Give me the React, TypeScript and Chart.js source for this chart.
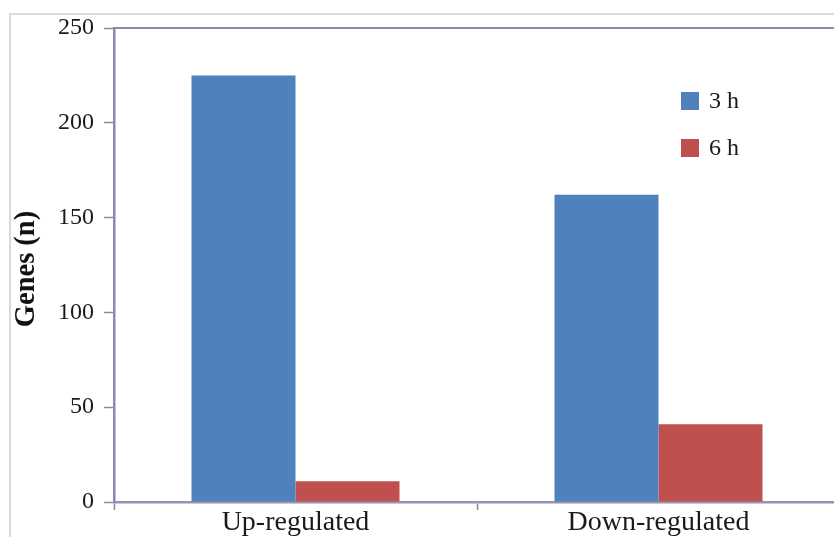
import React, { useEffect, useRef } from "react";
import { Chart, registerables } from "chart.js";

Chart.register(...registerables);

// Number of differentially expressed genes per regulation direction and time point
const categories = ["Up-regulated", "Down-regulated"];
const seriesLabels = ["3 h", "6 h"];
const genes3h = [225, 162];
const genes6h = [11, 41];
const yTicks = [0, 50, 100, 150, 200, 250];
const yTitle = "Genes (n)";

const BLUE = "#4f81bd";
const RED = "#c0504d";
const SERIF = "'Liberation Serif', 'Times New Roman', serif";

const W = 860;
const H = 560;

// Light frame around the figure, plus the top edge of the plot box
const framePlugin = {
  id: "frame",
  beforeDraw(chart: any) {
    const { ctx } = chart;
    ctx.save();
    ctx.fillStyle = "#ffffff";
    ctx.fillRect(0, 0, chart.width, chart.height);
    ctx.strokeStyle = "#dadada";
    ctx.lineWidth = 2;
    ctx.beginPath();
    ctx.moveTo(10, chart.height);
    ctx.lineTo(10, 14);
    ctx.lineTo(chart.width, 14);
    ctx.stroke();
    ctx.restore();
  },
  afterDraw(chart: any) {
    const { ctx, chartArea } = chart;
    ctx.save();
    ctx.strokeStyle = "#8a89b4";
    ctx.lineWidth = 2;
    ctx.beginPath();
    ctx.moveTo(chartArea.left, chartArea.top);
    ctx.lineTo(chartArea.right, chartArea.top);
    ctx.lineTo(chartArea.right, chartArea.bottom);
    ctx.stroke();
    ctx.restore();
  },
};

// Rotated y-axis title, set slightly below the plot's vertical middle
const yTitlePlugin = {
  id: "yTitle",
  afterDraw(chart: any) {
    const { ctx, chartArea } = chart;
    ctx.save();
    ctx.translate(27, (chartArea.top + chartArea.bottom) / 2 + 4);
    ctx.rotate(-Math.PI / 2);
    ctx.font = `bold 28.5px ${SERIF}`;
    ctx.fillStyle = "#111111";
    ctx.textAlign = "center";
    ctx.textBaseline = "middle";
    ctx.fillText(yTitle, 0, 0);
    ctx.restore();
  },
};

// Legend drawn inside the plot area, upper right
const insideLegend = {
  id: "insideLegend",
  afterDraw(chart: any) {
    const { ctx, chartArea } = chart;
    const x0 = chartArea.left + 567;
    const y0 = chartArea.top + 64;
    const box = 18;
    const rowGap = 47;
    ctx.save();
    ctx.font = `24px ${SERIF}`;
    ctx.textBaseline = "middle";
    ctx.textAlign = "left";
    chart.data.datasets.forEach((ds: any, i: number) => {
      const y = y0 + i * rowGap;
      ctx.fillStyle = ds.backgroundColor;
      ctx.fillRect(x0, y, box, box);
      ctx.fillStyle = "#1a1a1a";
      ctx.fillText(ds.label, x0 + 28, y + box / 2 + 1);
    });
    ctx.restore();
  },
};

export default function App() {
  const canvasRef = useRef<HTMLCanvasElement | null>(null);

  useEffect(() => {
    if (!canvasRef.current) return;
    const chart = new Chart(canvasRef.current, {
      type: "bar",
      data: {
        labels: categories,
        datasets: [
          {
            label: seriesLabels[0],
            data: genes3h,
            backgroundColor: BLUE,
            barPercentage: 1,
            categoryPercentage: 0.573,
          },
          {
            label: seriesLabels[1],
            data: genes6h,
            backgroundColor: RED,
            barPercentage: 1,
            categoryPercentage: 0.573,
          },
        ],
      },
      options: {
        responsive: false,
        animation: false,
        devicePixelRatio: 1,
        layout: { padding: { top: 28, left: 0, right: 20, bottom: 0 } },
        plugins: {
          legend: { display: false },
          tooltip: { enabled: false },
        },
        scales: {
          x: {
            type: "category",
            grid: {
              display: true,
              offset: true,
              drawOnChartArea: false,
              drawTicks: true,
              tickLength: 8,
              tickColor: "#8c8c8c",
              tickWidth: 1.5,
            },
            border: { display: true, color: "#9594b4", width: 2.5 },
            ticks: {
              color: "#1a1a1a",
              padding: -1,
              font: { family: SERIF, size: 28, lineHeight: 1 },
            },
            afterFit(scale: any) {
              scale.height = H - 502;
            },
          },
          y: {
            min: 0,
            max: 250,
            afterBuildTicks(scale: any) {
              scale.ticks = yTicks.map((v) => ({ value: v }));
            },
            grid: {
              display: true,
              drawOnChartArea: false,
              drawTicks: true,
              tickLength: 10,
              tickColor: "#8c8c8c",
              tickWidth: 1.5,
            },
            border: { display: true, color: "#8a89b4", width: 2.5 },
            ticks: {
              color: "#1a1a1a",
              padding: 10,
              font: { family: SERIF, size: 24 },
            },
            afterFit(scale: any) {
              scale.width = 114;
            },
          },
        },
      },
      plugins: [framePlugin, yTitlePlugin, insideLegend],
    });
    return () => chart.destroy();
  }, []);

  return (
    <div
      style={{
        position: "fixed",
        left: 0,
        top: 0,
        width: 834,
        height: 537,
        overflow: "hidden",
        background: "#ffffff",
      }}
    >
      <canvas
        ref={canvasRef}
        width={W}
        height={H}
        style={{ display: "block", width: W, height: H }}
      />
    </div>
  );
}
